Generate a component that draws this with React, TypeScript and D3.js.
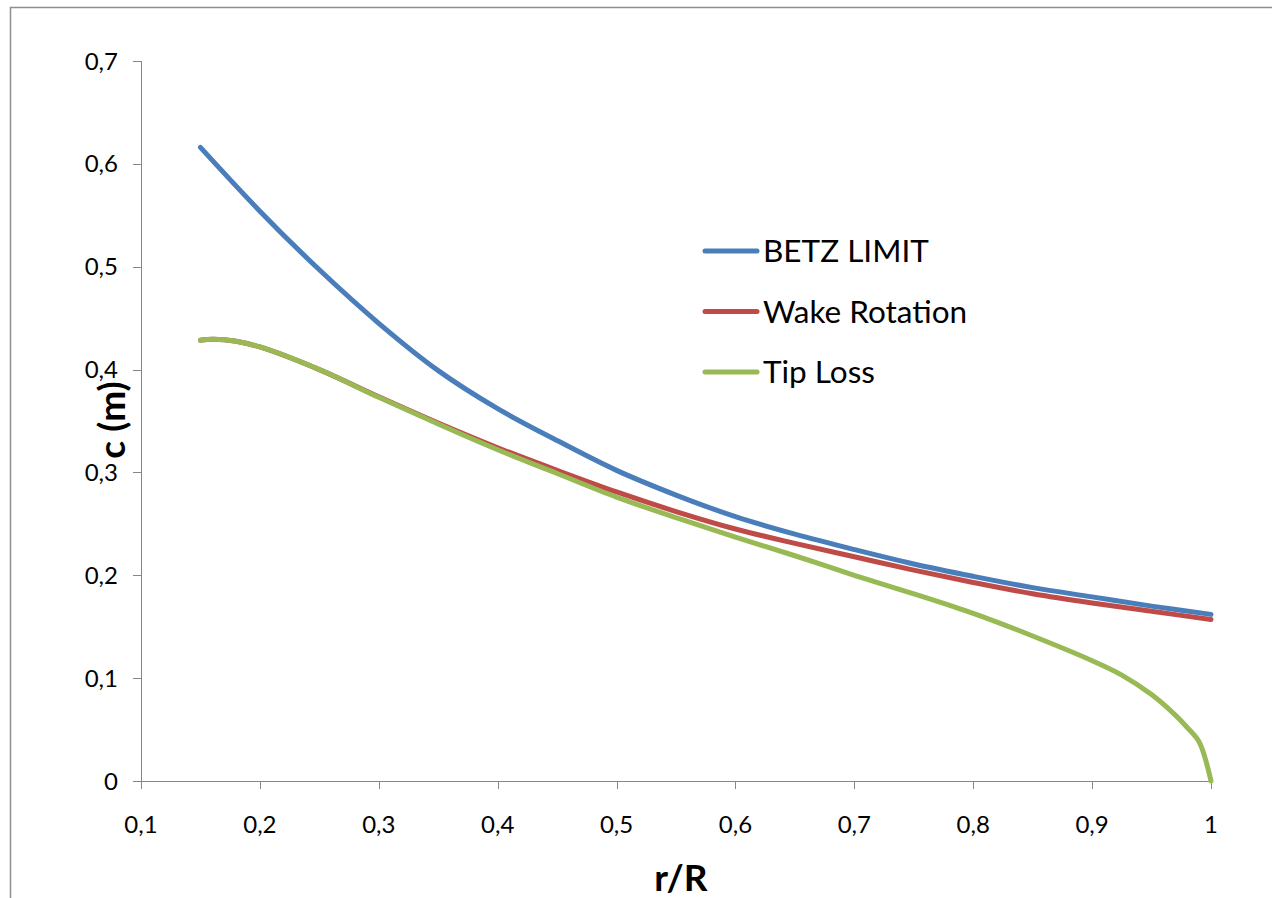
import React from "react";
import * as d3 from "d3";

// r/R stations and chord values (m)
const betzR = [0.15, 0.2, 0.25, 0.3, 0.35, 0.4, 0.45, 0.5, 0.55, 0.6, 0.65, 0.7, 0.75, 0.8, 0.85, 0.9, 0.95, 1.0];
const betzC = [0.616, 0.554, 0.497, 0.445, 0.399, 0.362, 0.331, 0.302, 0.278, 0.257, 0.240, 0.225, 0.211, 0.199, 0.188, 0.179, 0.170, 0.162];

const wakeR = [0.15, 0.16, 0.17, 0.18, 0.2, 0.25, 0.3, 0.35, 0.4, 0.45, 0.5, 0.55, 0.6, 0.65, 0.7, 0.75, 0.8, 0.85, 0.9, 0.95, 1.0];
const wakeC = [0.4285, 0.4295, 0.429, 0.4275, 0.422, 0.4, 0.3735, 0.348, 0.324, 0.302, 0.281, 0.262, 0.245, 0.231, 0.218, 0.205, 0.193, 0.182, 0.173, 0.165, 0.157];

const tipR = [0.15, 0.16, 0.17, 0.18, 0.2, 0.25, 0.3, 0.35, 0.4, 0.45, 0.5, 0.55, 0.6, 0.65, 0.7, 0.75, 0.8, 0.85, 0.9, 0.925, 0.95, 0.97, 0.98, 0.99, 1.0];
const tipC = [0.4285, 0.4295, 0.429, 0.4275, 0.422, 0.4, 0.373, 0.347, 0.322, 0.299, 0.276, 0.256, 0.237, 0.219, 0.2, 0.182, 0.163, 0.141, 0.117, 0.103, 0.084, 0.064, 0.052, 0.038, 0.0];

const seriesNames = ["BETZ LIMIT", "Wake Rotation", "Tip Loss"];
const seriesColors = ["#4A7EBB", "#BE4B48", "#98B954"];

const xTicks = [0.1, 0.2, 0.3, 0.4, 0.5, 0.6, 0.7, 0.8, 0.9, 1];
const yTicks = [0, 0.1, 0.2, 0.3, 0.4, 0.5, 0.6, 0.7];

const width = 1272;
const height = 898;
const font = "Lato, 'Open Sans', sans-serif";
const axisColor = "#868686";

export default function App() {
  const x = d3.scaleLinear().domain([0.1, 1]).range([141, 1211]);
  const y = d3.scaleLinear().domain([0, 0.7]).range([781, 61]);

  const line = d3
    .line<[number, number]>()
    .x((d) => x(d[0]))
    .y((d) => y(d[1]))
    .curve(d3.curveCatmullRom.alpha(0.5));

  const series = [
    d3.zip(betzR, betzC) as [number, number][],
    d3.zip(wakeR, wakeC) as [number, number][],
    d3.zip(tipR, tipC) as [number, number][],
  ];

  const fmt = (v: number) => String(v).replace(".", ",");

  return (
    <svg
      width={width}
      height={height}
      style={{ position: "absolute", left: 0, top: 0, background: "#fff" }}
      fontFamily={font}
    >
      {/* chart frame, runs off the page on the right and bottom */}
      <rect x={10.5} y={7.5} width={1400} height={1000} fill="#fff" stroke="#8e8e8e" strokeWidth={1.5} />

      {/* y axis */}
      <line x1={x(0.1) + 0.5} x2={x(0.1) + 0.5} y1={y(0.7)} y2={y(0)} stroke={axisColor} />
      {yTicks.map((t) => (
        <g key={"y" + t}>
          <line x1={x(0.1) - 8} x2={x(0.1)} y1={Math.round(y(t)) + 0.5} y2={Math.round(y(t)) + 0.5} stroke={axisColor} />
          <text x={118} y={y(t)} dy="0.36em" textAnchor="end" fontSize={24} fill="#000">
            {fmt(t)}
          </text>
        </g>
      ))}

      {/* x axis */}
      <line x1={x(0.1)} x2={x(1)} y1={Math.round(y(0)) + 0.5} y2={Math.round(y(0)) + 0.5} stroke={axisColor} />
      {xTicks.map((t) => (
        <g key={"x" + t}>
          <line x1={Math.round(x(t)) + 0.5} x2={Math.round(x(t)) + 0.5} y1={y(0)} y2={y(0) + 8} stroke={axisColor} />
          <text x={x(t)} y={833} textAnchor="middle" fontSize={24} fill="#000">
            {fmt(t)}
          </text>
        </g>
      ))}

      {/* series */}
      {series.map((s, i) => (
        <path
          key={seriesNames[i]}
          d={line(s) ?? ""}
          fill="none"
          stroke={seriesColors[i]}
          strokeWidth={5}
          strokeLinecap="round"
          strokeLinejoin="round"
        />
      ))}

      {/* legend */}
      {seriesNames.map((name, i) => {
        const ly = 251 + i * 60.5;
        return (
          <g key={"leg" + name}>
            <line x1={705} x2={757} y1={ly} y2={ly} stroke={seriesColors[i]} strokeWidth={5} strokeLinecap="round" />
            <text x={763} y={ly} dy="0.36em" fontSize={31.5} fill="#000">
              {name}
            </text>
          </g>
        );
      })}

      {/* axis titles */}
      <text x={681} y={891} textAnchor="middle" fontSize={37} fontWeight="bold" fill="#000">
        r/R
      </text>
      <text transform="translate(125,420) rotate(-90)" textAnchor="middle" fontSize={37} fontWeight="bold" fill="#000">
        c (m)
      </text>
    </svg>
  );
}
